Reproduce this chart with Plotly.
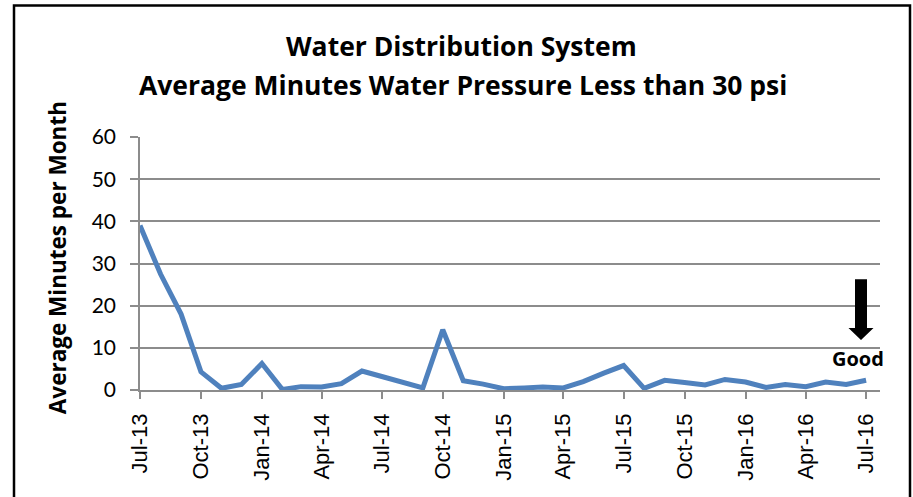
import pandas as pd
import plotly.graph_objects as go

# ---- data ----
months = pd.date_range("2013-07-01", "2016-07-01", freq="MS")
minutes = [39.0, 27.5, 18.0, 4.3, 0.4, 1.3, 6.3, 0.1, 0.8, 0.7,
           1.5, 4.5, 3.2, 1.8, 0.5, 14.3, 2.2, 1.4, 0.3, 0.5,
           0.7, 0.5, 2.0, 4.0, 5.8, 0.4, 2.3, 1.8, 1.2, 2.5,
           1.9, 0.6, 1.3, 0.8, 1.9, 1.3, 2.3]
tick_dates = pd.date_range("2013-07-01", "2016-07-01", freq="3MS")
tick_labels = [d.strftime("%b-%y") for d in tick_dates]
title_line1 = "Water Distribution System"
title_line2 = "Average Minutes Water Pressure Less than 30 psi"
y_title = "Average Minutes per Month"
note_text = "Good"

W, H = 913, 497
L, R, T, B = 140, 880, 136.7, 390  # plot area in px


def px(x):
    return (x - L) / (R - L)


def py(y):
    return (B - y) / (B - T)


fig = go.Figure()
fig.add_trace(go.Scatter(
    x=months, y=minutes, mode="lines",
    line=dict(color="#4F81BD", width=5),
    hoverinfo="x+y", showlegend=False,
))

grid = "#8C8C8C"
fig.update_layout(
    width=W, height=H,
    margin=dict(l=L, r=W - R, t=T, b=H - B, pad=0),
    paper_bgcolor="white", plot_bgcolor="white",
    font=dict(family="Open Sans, Lato, sans-serif", color="black"),
    xaxis=dict(
        type="date",
        range=["2013-07-01", "2016-07-22"],
        tickvals=tick_dates, ticktext=tick_labels,
        tickangle=-90,
        tickfont=dict(family="Liberation Sans, Arial, sans-serif", size=22),
        showgrid=False, zeroline=False,
        showline=True, linecolor=grid, linewidth=1.5,
        ticks="outside", ticklen=7, tickcolor=grid, tickwidth=1.5,
        ticklabelstandoff=6,
        fixedrange=True,
    ),
    yaxis=dict(
        range=[0, 60], dtick=10,
        tickfont=dict(family="Lato, sans-serif", size=21),
        showgrid=True, gridcolor=grid, gridwidth=1.5,
        zeroline=False,
        showline=True, linecolor=grid, linewidth=1.5,
        ticks="outside", ticklen=8, tickcolor=grid, tickwidth=1.5,
        ticklabelstandoff=10,
        fixedrange=True,
    ),
)

anns = [
    dict(text=f"<b>{title_line1}</b>", x=px(461), y=py(46), font=dict(size=26.5)),
    dict(text=f"<b>{title_line2}</b>", x=px(463), y=py(85), font=dict(size=26.5)),
    dict(text=f"<b>{y_title}</b>", x=px(57), y=py(258), textangle=-90, font=dict(size=22.5)),
    dict(text=f"<b>{note_text}</b>", x=px(857.5), y=py(358), font=dict(size=20)),
]
for a in anns:
    fig.add_annotation(xref="paper", yref="paper", showarrow=False,
                       xanchor="center", yanchor="middle", **a)

# outer chart border
fig.add_shape(type="rect", xref="paper", yref="paper",
              x0=px(14), x1=px(910), y0=py(5), y1=py(520),
              line=dict(color="black", width=2.5), layer="above")

# "Good" direction arrow
pts = [(855, 279), (867, 279), (867, 328), (873.5, 328), (861, 340), (848.5, 328), (855, 328)]
path = "M " + " L ".join(f"{px(x)},{py(y)}" for x, y in pts) + " Z"
fig.add_shape(type="path", xref="paper", yref="paper", path=path,
              fillcolor="black", line=dict(color="black", width=0))

fig.write_html("out.html",
               config={"displayModeBar": False},
               post_script="document.body.style.margin='0';document.body.style.overflow='hidden';")
